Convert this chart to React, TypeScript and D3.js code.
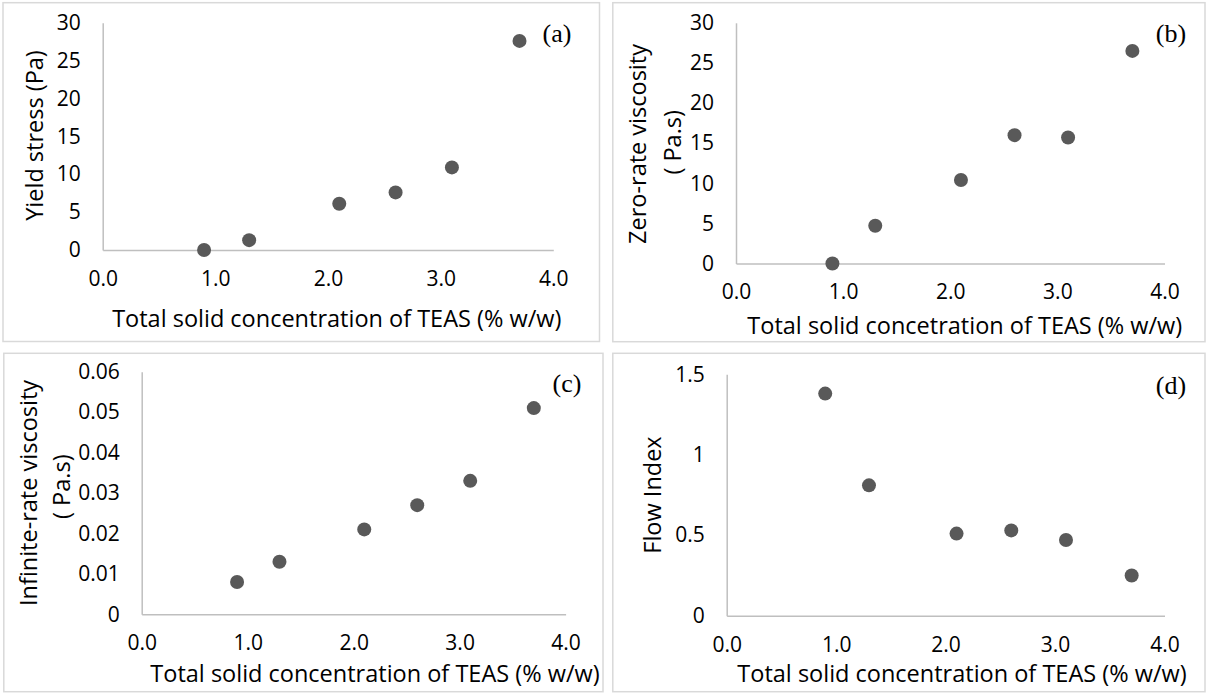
import React, { useEffect, useRef } from "react";
import { select, scaleLinear, axisLeft, axisBottom, format } from "d3";

const width = 1207;
const height = 693;

// % w/w total solids
const concentration = [0.9, 1.3, 2.1, 2.6, 3.1, 3.7];
const yieldStress = [0, 1.3, 6.1, 7.6, 10.9, 27.6];
const zeroRateViscosity = [0, 4.7, 10.4, 16.0, 15.7, 26.5];
const infiniteRateViscosity = [0.008, 0.013, 0.021, 0.027, 0.033, 0.051];
const flowIndex = [1.38, 0.81, 0.51, 0.53, 0.47, 0.25];

const xTicks = [0, 1, 2, 3, 4];
const stressTicks = [0, 5, 10, 15, 20, 25, 30];
const viscTicks = [0, 0.01, 0.02, 0.03, 0.04, 0.05, 0.06];
const flowTicks = [0, 0.5, 1, 1.5];

const FONT = "'Open Sans', sans-serif";
const dotColor = "#595959";
const axisColor = "#bfbfbf";

const panels = [
  {
    tag: "(a)",
    values: yieldStress,
    yTicks: stressTicks,
    plot: { x0: 102.7, x1: 553.3, y0: 250, y1: 22.7 },
    box: { x0: 3, y0: 2.7, x1: 599.5, y1: 341.5 },
    yLabel: [{ text: "Yield stress (Pa)", x: 33.7, y: 135.5 }],
    xTitle: { text: "Total solid concentration of TEAS (% w/w)", x: 336.8, y: 318 },
    tagPos: { x: 557, y: 33.5 },
  },
  {
    tag: "(b)",
    values: zeroRateViscosity,
    yTicks: stressTicks,
    plot: { x0: 736, x1: 1164.5, y0: 263.5, y1: 22.8 },
    box: { x0: 612.8, y0: 2.7, x1: 1205, y1: 341.7 },
    yLabel: [
      { text: "Zero-rate viscosity", x: 636.8, y: 144 },
      { text: "( Pa.s)", x: 671.6, y: 142.3 },
    ],
    xTitle: { text: "Total solid concetration of TEAS (% w/w)", x: 964.8, y: 324.8 },
    tagPos: { x: 1171, y: 33.5 },
  },
  {
    tag: "(c)",
    values: infiniteRateViscosity,
    yTicks: viscTicks,
    plot: { x0: 141.7, x1: 565.6, y0: 614.3, y1: 371.7 },
    box: { x0: 3.8, y0: 353.3, x1: 603, y1: 691.7 },
    yLabel: [
      { text: "Infinite-rate viscosity", x: 27.6, y: 493 },
      { text: "( Pa.s)", x: 61.2, y: 486.7 },
    ],
    xTitle: { text: "Total solid concentration of TEAS (% w/w)", x: 375, y: 673.3 },
    tagPos: { x: 567, y: 383.3 },
  },
  {
    tag: "(d)",
    values: flowIndex,
    yTicks: flowTicks,
    plot: { x0: 726.7, x1: 1164.5, y0: 615.7, y1: 374.3 },
    box: { x0: 612.8, y0: 353.3, x1: 1205, y1: 691.7 },
    yLabel: [{ text: "Flow Index", x: 652.3, y: 495 }],
    xTitle: { text: "Total solid concentration of TEAS (% w/w)", x: 962, y: 673.3 },
    tagPos: { x: 1171, y: 385 },
  },
];

const App = () => {
  const ref = useRef<SVGSVGElement>(null);

  useEffect(() => {
    const svg = select(ref.current);
    svg.selectAll("*").remove();

    svg
      .append("rect")
      .attr("width", width)
      .attr("height", height)
      .attr("fill", "#fff");

    panels.forEach((p) => {
      const g = svg.append("g");

      g.append("rect")
        .attr("x", p.box.x0)
        .attr("y", p.box.y0)
        .attr("width", p.box.x1 - p.box.x0)
        .attr("height", p.box.y1 - p.box.y0)
        .attr("fill", "none")
        .attr("stroke", "#d9d9d9")
        .attr("stroke-width", 1.5);

      const yMax = p.yTicks[p.yTicks.length - 1];
      const x = scaleLinear().domain([0, 4]).range([p.plot.x0, p.plot.x1]);
      const y = scaleLinear().domain([0, yMax]).range([p.plot.y0, p.plot.y1]);

      const xAxis = (sel) =>
        sel
          .attr("transform", `translate(0,${p.plot.y0})`)
          .call(
            axisBottom(x)
              .tickValues(xTicks)
              .tickFormat(format(".1f"))
              .tickSize(0)
              .tickPadding(21)
          );

      const yAxis = (sel) =>
        sel
          .attr("transform", `translate(${p.plot.x0},0)`)
          .call(
            axisLeft(y)
              .tickValues(p.yTicks)
              .tickFormat((d) => String(+d))
              .tickSize(0)
              .tickPadding(22)
          );

      const styleAxis = (sel) => {
        sel.select(".domain").attr("stroke", axisColor).attr("stroke-width", 1.5);
        sel
          .selectAll("text")
          .attr("font-family", FONT)
          .attr("font-size", 21)
          .attr("fill", "#000");
      };

      g.append("g").call(xAxis).call(styleAxis);
      g.append("g").call(yAxis).call(styleAxis);

      g.selectAll("circle")
        .data(concentration)
        .join("circle")
        .attr("cx", (d) => x(d))
        .attr("cy", (d, i) => y(p.values[i]))
        .attr("r", 7)
        .attr("fill", dotColor);

      p.yLabel.forEach((l) => {
        g.append("text")
          .attr("transform", `translate(${l.x},${l.y}) rotate(-90)`)
          .attr("text-anchor", "middle")
          .attr("dominant-baseline", "central")
          .attr("font-family", FONT)
          .attr("font-size", 23.5)
          .text(l.text);
      });

      g.append("text")
        .attr("x", p.xTitle.x)
        .attr("y", p.xTitle.y)
        .attr("text-anchor", "middle")
        .attr("dominant-baseline", "central")
        .attr("font-family", FONT)
        .attr("font-size", 23.5)
        .text(p.xTitle.text);

      g.append("text")
        .attr("x", p.tagPos.x)
        .attr("y", p.tagPos.y)
        .attr("text-anchor", "middle")
        .attr("dominant-baseline", "central")
        .attr("font-family", "'Liberation Serif', 'Times New Roman', serif")
        .attr("font-size", 26)
        .text(p.tag);
    });
  }, []);

  return (
    <div style={{ position: "absolute", left: 0, top: 0 }}>
      <svg ref={ref} width={width} height={height} style={{ display: "block" }} />
    </div>
  );
};

export default App;
